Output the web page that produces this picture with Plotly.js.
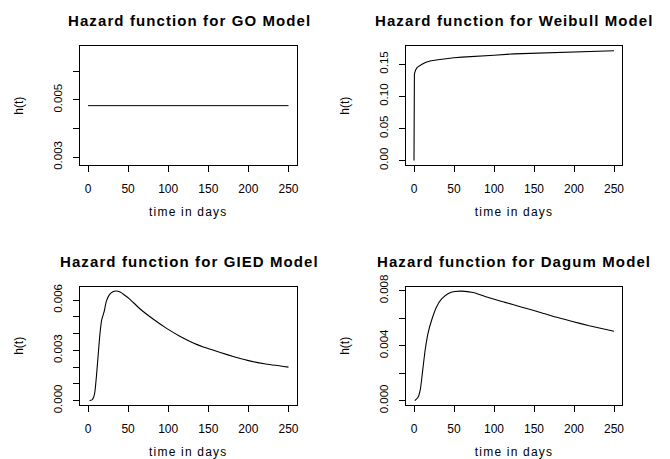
<!DOCTYPE html>
<html>
<head>
<meta charset="utf-8">
<script src="https://cdn.plot.ly/plotly-3.0.1.min.js"></script>
<style>
  html, body { margin: 0; padding: 0; background: #fff; }
  #chart { width: 670px; height: 459px; }
  .annotation-text { letter-spacing: 1.1px; }
  .xtitle, .x2title, .x3title, .x4title { letter-spacing: 1.2px; }
</style>
</head>
<body>
<div id="chart"></div>
<script>
// ---- data ----
const panelTitles = [
  "Hazard function for GO Model",
  "Hazard function for Weibull Model",
  "Hazard function for GIED Model",
  "Hazard function for Dagum Model"
];
const xLabel = "time in days";
const yLabel = "h(t)";

const goT = [0, 50, 100, 150, 200, 250];
const goH = [0.0048, 0.0048, 0.0048, 0.0048, 0.0048, 0.0048];

const weibullT = [0, 0.05, 0.2, 0.5, 1, 2, 4, 7, 10, 15, 20, 30, 40, 50, 60, 80, 100, 125, 150, 175, 200, 225, 250];
const weibullH = [0, 0.122, 0.128, 0.134, 0.137, 0.141, 0.145, 0.148, 0.150, 0.153, 0.155, 0.157, 0.159, 0.160, 0.161, 0.163, 0.164, 0.166, 0.167, 0.168, 0.169, 0.170, 0.171];

const giedT = [2, 5, 7, 8.5, 10.5, 12.5, 14.5, 17, 20, 23, 27, 31, 35, 40, 45, 52, 65, 82, 98, 115, 132, 149, 165, 182, 199, 220, 250];
const giedH = [0, 0.00004, 0.0002, 0.0005, 0.00146, 0.00262, 0.0038, 0.0048, 0.0053, 0.00595, 0.00634, 0.0065, 0.00654, 0.00648, 0.00632, 0.00606, 0.00547, 0.00484, 0.00431, 0.00383, 0.00343, 0.00312, 0.00287, 0.00262, 0.0024, 0.0022, 0.0020];

const dagumT = [1, 5, 8, 11, 14, 17.5, 22, 28, 34.5, 43, 51, 59, 74, 93, 114, 135, 156, 177, 198, 219, 250];
const dagumH = [0, 0.00024, 0.00084, 0.00227, 0.0037, 0.0049, 0.00585, 0.0068, 0.0074, 0.0078, 0.00794, 0.00797, 0.00787, 0.0075, 0.00715, 0.0068, 0.00645, 0.00608, 0.00576, 0.00545, 0.00505];

const xTicks = [0, 50, 100, 150, 200, 250];
const goYTicks = [0.003, 0.004, 0.005, 0.006];
const goYText = ["0.003", "", "0.005", ""];
const weibullYTicks = [0, 0.05, 0.10, 0.15];
const weibullYText = ["0.00", "0.05", "0.10", "0.15"];
const giedYTicks = [0, 0.001, 0.002, 0.003, 0.004, 0.005, 0.006];
const giedYText = ["0.000", "", "", "0.003", "", "", "0.006"];
const dagumYTicks = [0, 0.002, 0.004, 0.006, 0.008];
const dagumYText = ["0.000", "", "0.004", "", "0.008"];

// ---- styling ----
const FONT = '"Liberation Sans", Arial, Helvetica, sans-serif';

const traces = [
  { x: goT, y: goH, xaxis: "x", yaxis: "y", line: { color: "#000", width: 1 } },
  { x: weibullT, y: weibullH, xaxis: "x2", yaxis: "y2", line: { color: "#000", width: 1.1 } },
  { x: giedT, y: giedH, xaxis: "x3", yaxis: "y3", line: { color: "#000", width: 1.1, shape: "spline", smoothing: 0.5 } },
  { x: dagumT, y: dagumH, xaxis: "x4", yaxis: "y4", line: { color: "#000", width: 1.1, shape: "spline", smoothing: 0.5 } }
].map(t => Object.assign(t, { type: "scatter", mode: "lines", hoverinfo: "skip", showlegend: false }));

function xAxis(domain, anchor) {
  return {
    domain: domain, anchor: anchor, range: [-10, 260],
    tickmode: "array", tickvals: xTicks, ticktext: xTicks.map(String),
    ticks: "outside", ticklen: 6, tickwidth: 1, tickcolor: "#000",
    ticklabelstandoff: 7,
    showline: true, mirror: true, linecolor: "#000", linewidth: 1,
    showgrid: false, zeroline: false,
    tickfont: { family: FONT, size: 12, color: "#000" },
    title: { text: xLabel, font: { family: FONT, size: 12, color: "#000" }, standoff: 12 },
    automargin: false, fixedrange: true
  };
}
function yAxis(domain, anchor, range, vals, text) {
  return {
    domain: domain, anchor: anchor, range: range,
    tickmode: "array", tickvals: vals, ticktext: text,
    ticks: "outside", ticklen: 6, tickwidth: 1, tickcolor: "#000",
    tickangle: -90, ticklabelstandoff: 6,
    showline: true, mirror: true, linecolor: "#000", linewidth: 1,
    showgrid: false, zeroline: false,
    tickfont: { family: FONT, size: 11.5, color: "#000" },
    title: { text: yLabel, font: { family: FONT, size: 12, color: "#000" }, standoff: 26 },
    automargin: false, fixedrange: true
  };
}

const xLeft = [80 / 670, 296.5 / 670];
const xRight = [406 / 670, 622 / 670];
const yTop = [1 - 165 / 459, 1 - 46.3 / 459];
const yBot = [1 - 405 / 459, 1 - 286.7 / 459];

const titleFont = { family: FONT, size: 15, color: "#000", weight: "bold" };
function ann(text, x, y) {
  return { text: "<b>" + text + "</b>", xref: "paper", yref: "paper", x: x, y: y,
           xanchor: "center", yanchor: "middle", showarrow: false, font: titleFont };
}

const layout = {
  width: 670, height: 459,
  margin: { l: 0, r: 0, t: 0, b: 0 },
  paper_bgcolor: "#fff", plot_bgcolor: "#fff",
  showlegend: false,
  xaxis: xAxis(xLeft, "y"),
  yaxis: yAxis(yTop, "x", [0.002726, 0.006874], goYTicks, goYText),
  xaxis2: xAxis(xRight, "y2"),
  yaxis2: yAxis(yTop, "x2", [-0.00684, 0.17784], weibullYTicks, weibullYText),
  xaxis3: xAxis(xLeft, "y3"),
  yaxis3: yAxis(yBot, "x3", [-0.000262, 0.0068], giedYTicks, giedYText),
  xaxis4: xAxis(xRight, "y4"),
  yaxis4: yAxis(yBot, "x4", [-0.000319, 0.00829], dagumYTicks, dagumYText),
  annotations: [
    ann(panelTitles[0], 189 / 670, 1 - 20.7 / 459),
    ann(panelTitles[1], 514 / 670, 1 - 20.5 / 459),
    ann(panelTitles[2], 189 / 670, 1 - 261.7 / 459),
    ann(panelTitles[3], 514 / 670, 1 - 261.7 / 459)
  ]
};

Plotly.newPlot("chart", traces, layout, { staticPlot: true, displayModeBar: false });
</script>
</body>
</html>
